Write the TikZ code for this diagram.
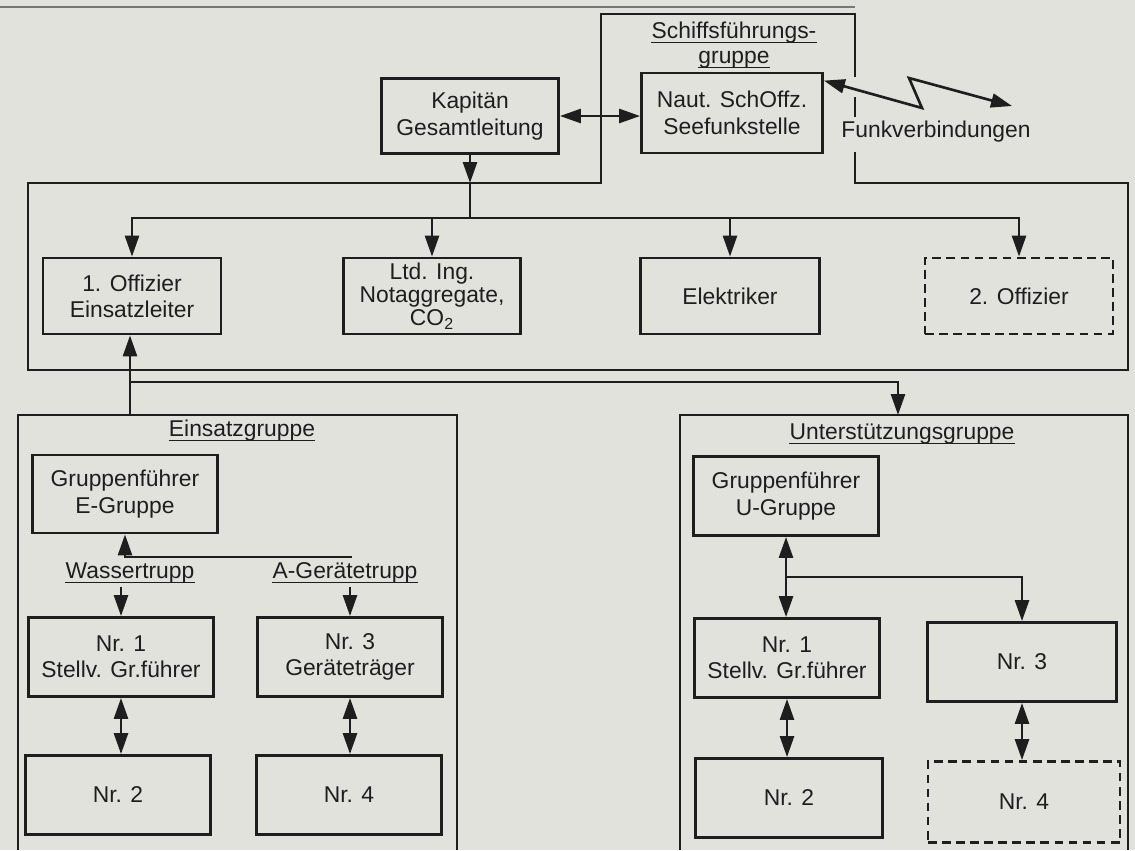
\documentclass[tikz,border=0pt]{standalone}
\usepackage{fontspec}
\setmainfont{Liberation Sans}
\usetikzlibrary{arrows.meta,positioning,calc}
\definecolor{page}{RGB}{226,226,221}
\definecolor{ink}{RGB}{30,30,30}
\newcommand{\lbl}{\fontsize{13}{15}\selectfont}

\begin{document}
\begin{tikzpicture}[
    x=0.02cm, y=-0.02cm,
    box/.style={draw=ink, line width=1.6pt, minimum width=3.7cm, minimum height=1.58cm, align=center, font=\lbl, text=ink, inner sep=1pt},
    dbox/.style={box, dash pattern=on 5pt off 3pt},
    txt/.style={font=\lbl, text=ink, inner xsep=0pt, inner ysep=2pt},
    head/.style={txt, anchor=base},
    wire/.style={draw=ink, line width=1.5pt},
    arr/.style={wire, -{Triangle[length=4.2mm,width=2.8mm]}},
    dbl/.style={wire, {Triangle[length=4.2mm,width=2.8mm]}-{Triangle[length=4.2mm,width=2.8mm]}},
    frame/.style={draw=ink, line width=1.6pt},
    uline/.style={draw=ink, line width=0.7pt}
  ]
  \fill[page] (0,0) rectangle (1135,850);
  \useasboundingbox (0,0) rectangle (1135,850);

  \draw[ink!60, line width=0.6pt] (0,7) -- (855,7);
  \node[box, minimum width=3.54cm, minimum height=1.5cm] (kap) at (470,116) {Kapitän\\Gesamtleitung};
  \node[box, minimum width=3.62cm, minimum height=1.6cm] (naut) at (732,113) {Naut. SchOffz.\\Seefunkstelle};
  \node[head] (sfg1) at (734,38) {Schiffsführungs-};
  \node[head] (sfg2) at (734,63) {gruppe};
  \node[txt] (funk) at (936,132) {Funkverbindungen};

  \draw[frame] (855,77) -- (855,14) -- (601,14) -- (601,183) -- (28,183) -- (28,370) -- (1128,370) -- (1128,183) -- (855,183) -- (855,152);
  \draw[frame] (855,97) -- (855,117);

  \node[box, minimum width=3.56cm, minimum height=1.52cm] (off1) at (132,296) {1. Offizier\\Einsatzleiter};
  \node[box, minimum width=3.54cm, minimum height=1.52cm] (ing) at (432,296) {Ltd. Ing.\\[-2pt]Notaggregate,\\[-2pt]CO\textsubscript{2}};
  \node[box, minimum width=3.58cm, minimum height=1.52cm] (elek) at (730,296) {Elektriker};
  \node[dbox, minimum width=3.76cm, minimum height=1.52cm] (off2) at (1019,296) {2. Offizier};

  \coordinate (kaptip) at (470,183);
  \coordinate (bus) at (470,218);
  \draw[dbl] (kap.east) -- (kap.east -| naut.west);
  \draw[arr] (kap.south) -- (kaptip);
  \draw[wire] (kaptip) -- (bus);
  \foreach \n in {off1,ing,elek,off2} \draw[arr] (bus) -| (\n.north);

  \coordinate (zag1) at (922,108);
  \coordinate (zag2) at (909,78);
  \coordinate (funkend) at (1012,106);
  \draw[dbl] ([yshift=-0.18cm]naut.north east) -- (zag1) -- (zag2) -- (funkend);

  \coordinate (ein) at (130,415);
  \coordinate (split) at (130,382);
  \coordinate (unt) at (898,415);
  \draw[arr] (ein) -- (ein |- off1.south);
  \draw[arr] (split) -| (unt);

  \draw[frame] (18,850) -- (18,415) -- (457,415) -- (457,850);
  \draw[frame] (680,850) -- (680,415) -- (1128,415) -- (1128,850);

  \node[head] (einl) at (242,436) {Einsatzgruppe};
  \node[box, minimum height=1.56cm] (gfe) at (125,494) {Gruppenführer\\E-Gruppe};
  \node[head] (wasser) at (130,578) {Wassertrupp};
  \node[head] (ager) at (345,578) {A-Gerätetrupp};
  \node[box] (nr1e) at (121,657) {Nr. 1\\Stellv. Gr.führer};
  \node[box] (nr3e) at (350,657) {Nr. 3\\Geräteträger};
  \node[box] (nr2e) at (118,795) {Nr. 2};
  \node[box] (nr4e) at (349,795) {Nr. 4};
  \coordinate (etrupp) at (352,557);
  \draw[arr] (etrupp) -| (gfe.south);
  \draw[arr] (nr1e.north |- wasser.south) -- (nr1e.north);
  \draw[arr] (nr3e.north |- ager.south) -- (nr3e.north);
  \draw[dbl] (nr1e.south) -- (nr1e.south |- nr2e.north);
  \draw[dbl] (nr3e.south) -- (nr3e.south |- nr4e.north);

  \node[head] (untl) at (902,439) {Unterstützungsgruppe};
  \node[box] (gfu) at (786,496) {Gruppenführer\\U-Gruppe};
  \node[box] (nr1u) at (787,658) {Nr. 1\\Stellv. Gr.führer};
  \node[box, minimum width=3.78cm] (nr3u) at (1022,662) {Nr. 3};
  \node[box, minimum width=3.74cm] (nr2u) at (789,798) {Nr. 2};
  \node[dbox, minimum width=3.84cm, minimum height=1.62cm] (nr4u) at (1024,802) {Nr. 4};
  \coordinate (ubr) at (786,577);
  \draw[dbl] (gfu.south) -- (gfu.south |- nr1u.north);
  \draw[arr] (ubr) -| (nr3u.north);
  \draw[dbl] (nr1u.south) -- (nr1u.south |- nr2u.north);
  \draw[dbl] (nr3u.south) -- (nr3u.south |- nr4u.north);

  \foreach \n in {sfg1,sfg2,einl,wasser,ager,untl}
    \draw[uline] ([yshift=-2.5pt]\n.base west) -- ([yshift=-2.5pt]\n.base east);
\end{tikzpicture}
\end{document}
